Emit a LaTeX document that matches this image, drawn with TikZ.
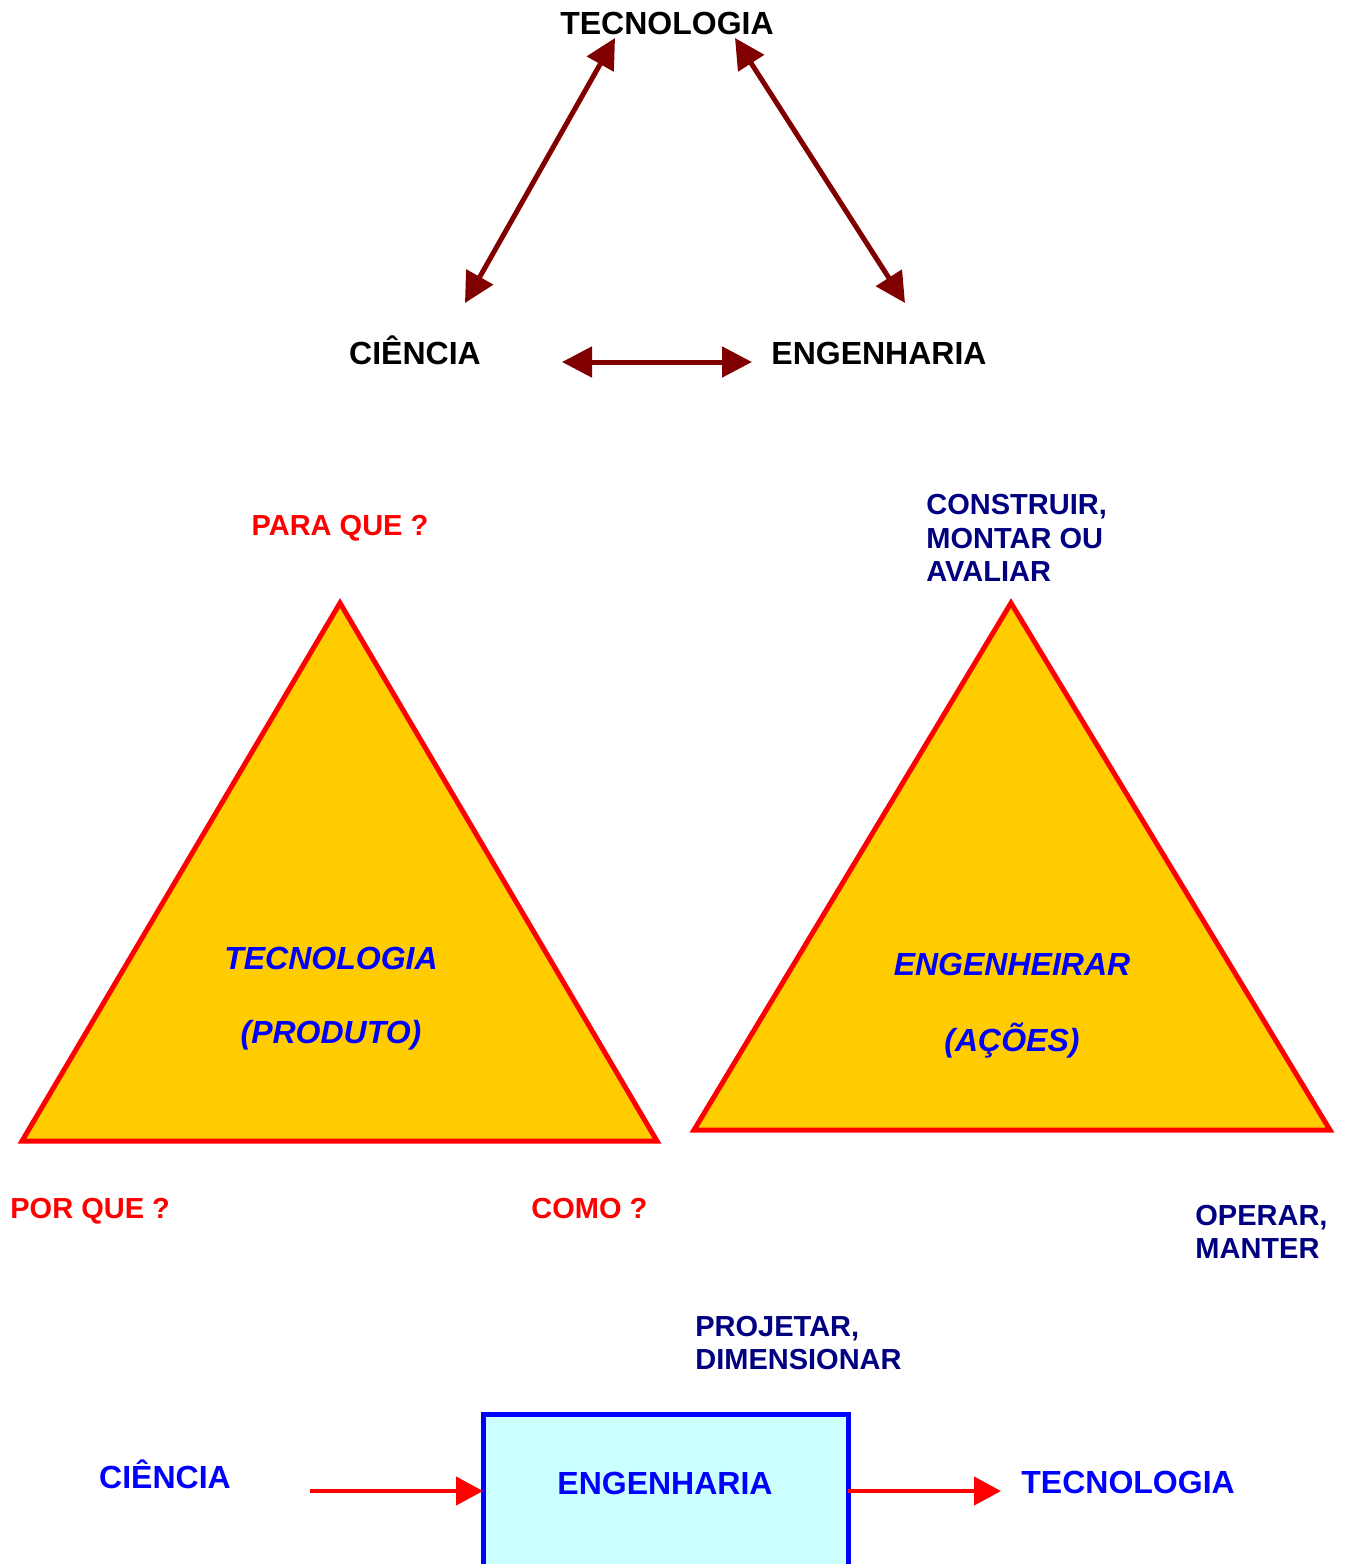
\documentclass[tikz,border=0pt]{standalone}
\usepackage{fontspec}
\setmainfont{Liberation Sans}
\usetikzlibrary{arrows.meta}
\definecolor{darkred}{HTML}{800000}
\definecolor{navyb}{HTML}{000080}
\definecolor{triyellow}{HTML}{FFCC00}
\definecolor{boxcyan}{HTML}{CCFFFF}
\tikzset{
  x=0.5pt, y=-0.5pt,
  lbl/.style={inner sep=0pt, text height=11.5pt, text depth=0pt, font=\fontsize{16}{19}\selectfont\bfseries},
  navylbl/.style={inner sep=0pt, text=navyb, align=left, anchor=west, font=\fontsize{14.5}{16.8}\selectfont\bfseries},
  redlbl/.style={inner sep=0pt, text height=10.4pt, text depth=0pt, text=red, font=\fontsize{14.5}{17}\selectfont\bfseries},
  bluelbl/.style={inner sep=0pt, text height=11.5pt, text depth=0pt, text=blue, font=\fontsize{16}{19}\selectfont\bfseries},
  blueit/.style={inner sep=0pt, text height=11.5pt, text depth=0pt, text=blue, font=\fontsize{16}{19}\selectfont\bfseries\itshape},
  darrow/.style={draw=darkred, line width=2.5pt, {Triangle[length=15pt,width=15pt]}-{Triangle[length=15pt,width=15pt]}},
  rarrow/.style={draw=red, line width=2.2pt, -{Triangle[length=13.5pt,width=14pt]}},
  tri/.style={draw=red, fill=triyellow, line width=2.5pt, line join=miter},
}
\begin{document}
\begin{tikzpicture}
\useasboundingbox (0,0) rectangle (1345,1564);
\clip (0,0) rectangle (1345,1564);
% top triangle of concepts
\node[lbl] (tec) at (667,23) {TECNOLOGIA};
\node[lbl] (cie) at (415,353) {CIÊNCIA};
\node[lbl] (eng) at (879,353) {ENGENHARIA};
\coordinate (a1) at (615,38);
\coordinate (a2) at (465,303);
\coordinate (b1) at (735,38);
\coordinate (b2) at (905,303);
\coordinate (c1) at (562,362);
\coordinate (c2) at (752,362);
\draw[darrow] (a1) -- (a2);
\draw[darrow] (b1) -- (b2);
\draw[darrow] (c1) -- (c2);
% left triangle
\node[redlbl] (para) at (340,525) {PARA QUE ?};
\draw[tri] (340,603) coordinate (lt) -- (657,1141) coordinate (lr) -- (22,1141) coordinate (ll) -- cycle;
\node[blueit] (tprod) at (331,958) {TECNOLOGIA};
\node[blueit] (prod) at (331,1032) {(PRODUTO)};
\node[redlbl, anchor=west] (porque) at (10,1208) {POR QUE ?};
\node[redlbl, anchor=west] (como) at (531,1208) {COMO ?};
% right triangle
\node[navylbl] (constr) at (926,538) {CONSTRUIR,\\MONTAR OU\\AVALIAR};
\draw[tri] (1011,603) coordinate (rt) -- (1330,1130) coordinate (rr) -- (694,1130) coordinate (rl) -- cycle;
\node[blueit] (engh) at (1012,964) {ENGENHEIRAR};
\node[blueit] (acoes) at (1012,1040) {(AÇÕES)};
\node[navylbl] (operar) at (1195,1232) {OPERAR,\\MANTER};
\node[navylbl] (proj) at (695,1343) {PROJETAR,\\DIMENSIONAR};
% bottom chain
\node[bluelbl] (cie2) at (165,1477) {CIÊNCIA};
\fill[boxcyan] (483,1414) rectangle (848,1600);
\draw[blue, line width=2.5pt] (483,1600) -- (483,1414) -- (848,1414) -- (848,1600);
\coordinate (boxw) at (483,1491);
\coordinate (boxe) at (848,1491);
\node[bluelbl] (eng2) at (665,1483) {ENGENHARIA};
\node[bluelbl, anchor=west] (tec2) at (1021,1482) {TECNOLOGIA};
\coordinate (s1) at (310,1491);
\coordinate (t2) at (1001,1491);
\draw[rarrow] (s1) -- (boxw);
\draw[rarrow] (boxe) -- (t2);
\end{tikzpicture}
\end{document}
